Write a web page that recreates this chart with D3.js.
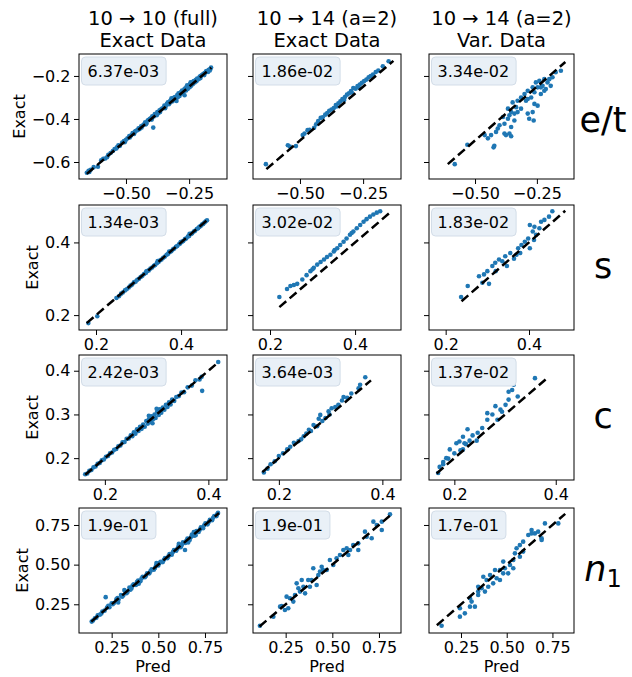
<!DOCTYPE html>
<html>
<head>
<meta charset="utf-8">
<script src="https://cdn.jsdelivr.net/npm/d3@7"></script>
<style>
  body { margin: 0; background: #fff; }
  svg { display: block; font-family: "DejaVu Sans", sans-serif; }
</style>
</head>
<body>
<svg id="chart" width="632" height="677"></svg>
<script>
// titles, row names and per-panel error labels
const colTitles = [
  ["10 \u2192 10 (full)", "Exact Data"],
  ["10 \u2192 14 (a=2)", "Exact Data"],
  ["10 \u2192 14 (a=2)", "Var. Data"]
];
const rowNames = ["e/t", "s", "c", "n1"];
const errLabels = [
  ["6.37e-03", "1.86e-02", "3.34e-02"],
  ["1.34e-03", "3.02e-02", "1.83e-02"],
  ["2.42e-03", "3.64e-03", "1.37e-02"],
  ["1.9e-01", "1.9e-01", "1.7e-01"]
];

// axis ticks per row
const xTicks = [[-0.5, -0.25], [0.2, 0.4], [0.2, 0.4], [0.25, 0.5, 0.75]];
const yTicks = [[-0.6, -0.4, -0.2], [0.2, 0.4], [0.2, 0.3, 0.4], [0.25, 0.5, 0.75]];
const xFormats = [".2f", ".1f", ".1f", ".2f"];
const yFormats = [".1f", ".1f", ".1f", ".2f"];
const xDomains = [[-0.686, -0.100], [0.160, 0.508], [0.150, 0.436], [0.075, 0.868]];
const yDomains = [[-0.679, -0.098], [0.159, 0.503], [0.150, 0.436], [0.069, 0.857]];

// y = x reference line extent per panel
const lineRanges = [
  [[-0.655, -0.162], [-0.633, -0.130], [-0.610, -0.135]],
  [[0.178, 0.461], [0.222, 0.487], [0.238, 0.487]],
  [[0.162, 0.414], [0.168, 0.378], [0.165, 0.380]],
  [[0.141, 0.825], [0.110, 0.820], [0.118, 0.820]]
];

// [pred, exact] pairs
const etFull = [[-0.655,-0.650],[-0.648,-0.641],[-0.640,-0.636],[-0.611,-0.622],[-0.598,-0.592],[-0.590,-0.585],[-0.582,-0.584],[-0.570,-0.566],[-0.561,-0.558],[-0.552,-0.549],[-0.545,-0.540],[-0.538,-0.537],[-0.530,-0.522],[-0.524,-0.525],[-0.515,-0.509],[-0.508,-0.503],[-0.500,-0.497],[-0.494,-0.490],[-0.487,-0.479],[-0.480,-0.477],[-0.474,-0.466],[-0.468,-0.470],[-0.462,-0.456],[-0.455,-0.452],[-0.450,-0.443],[-0.446,-0.447],[-0.440,-0.434],[-0.434,-0.430],[-0.429,-0.426],[-0.424,-0.415],[-0.419,-0.420],[-0.414,-0.407],[-0.410,-0.404],[-0.405,-0.399],[-0.400,-0.396],[-0.392,-0.440],[-0.396,-0.387],[-0.390,-0.388],[-0.386,-0.377],[-0.381,-0.378],[-0.376,-0.368],[-0.372,-0.372],[-0.367,-0.360],[-0.362,-0.356],[-0.357,-0.351],[-0.352,-0.349],[-0.348,-0.338],[-0.343,-0.341],[-0.338,-0.330],[-0.334,-0.322],[-0.330,-0.331],[-0.325,-0.316],[-0.320,-0.304],[-0.316,-0.318],[-0.311,-0.302],[-0.306,-0.298],[-0.302,-0.305],[-0.297,-0.289],[-0.292,-0.281],[-0.288,-0.293],[-0.283,-0.276],[-0.278,-0.268],[-0.274,-0.279],[-0.269,-0.262],[-0.265,-0.258],[-0.260,-0.252],[-0.255,-0.260],[-0.250,-0.243],[-0.246,-0.238],[-0.242,-0.246],[-0.237,-0.230],[-0.232,-0.224],[-0.228,-0.230],[-0.223,-0.218],[-0.218,-0.212],[-0.213,-0.215],[-0.208,-0.203],[-0.203,-0.199],[-0.198,-0.195],[-0.193,-0.190],[-0.188,-0.186],[-0.183,-0.178],[-0.178,-0.176],[-0.172,-0.172],[-0.166,-0.168],[-0.163,-0.161],[-0.268,-0.290],[-0.300,-0.316],
  [-0.645,-0.646],[-0.628,-0.624],[-0.575,-0.578],[-0.535,-0.530],[-0.505,-0.508],[-0.485,-0.486],[-0.465,-0.460],[-0.438,-0.440],[-0.421,-0.425],[-0.398,-0.403],[-0.378,-0.383],[-0.365,-0.368],[-0.345,-0.350],[-0.327,-0.325],[-0.314,-0.310],[-0.295,-0.299],[-0.285,-0.284],[-0.272,-0.272],[-0.262,-0.268],[-0.248,-0.252],[-0.235,-0.238],[-0.221,-0.225],[-0.205,-0.210],[-0.190,-0.196],[-0.175,-0.182],[-0.168,-0.175],[-0.258,-0.244],[-0.244,-0.229]];
const etExact = [[-0.635,-0.610],[-0.548,-0.522],[-0.540,-0.528],[-0.516,-0.526],[-0.489,-0.475],[-0.482,-0.468],[-0.470,-0.452],[-0.462,-0.450],[-0.444,-0.441],[-0.436,-0.425],[-0.428,-0.410],[-0.418,-0.395],[-0.410,-0.392],[-0.400,-0.380],[-0.392,-0.372],[-0.384,-0.362],[-0.375,-0.356],[-0.366,-0.349],[-0.358,-0.335],[-0.348,-0.327],[-0.340,-0.318],[-0.332,-0.307],[-0.322,-0.298],[-0.314,-0.287],[-0.306,-0.281],[-0.298,-0.270],[-0.289,-0.256],[-0.280,-0.259],[-0.272,-0.247],[-0.263,-0.240],[-0.255,-0.232],[-0.246,-0.224],[-0.237,-0.217],[-0.228,-0.206],[-0.220,-0.200],[-0.211,-0.194],[-0.200,-0.182],[-0.190,-0.175],[-0.172,-0.155],[-0.149,-0.132],[-0.355,-0.342],[-0.325,-0.312],[-0.295,-0.277],[-0.268,-0.253]];
const etVar = [[-0.582,-0.610],[-0.531,-0.520],[-0.425,-0.532],[-0.422,-0.525],[-0.435,-0.475],[-0.415,-0.460],[-0.408,-0.444],[-0.401,-0.429],[-0.381,-0.468],[-0.375,-0.475],[-0.361,-0.468],[-0.354,-0.480],[-0.354,-0.437],[-0.367,-0.399],[-0.387,-0.391],[-0.361,-0.383],[-0.341,-0.375],[-0.328,-0.368],[-0.334,-0.345],[-0.314,-0.352],[-0.287,-0.375],[-0.267,-0.368],[-0.281,-0.399],[-0.263,-0.407],[-0.294,-0.315],[-0.273,-0.300],[-0.260,-0.330],[-0.247,-0.338],[-0.234,-0.284],[-0.247,-0.253],[-0.227,-0.246],[-0.220,-0.269],[-0.207,-0.230],[-0.187,-0.206],[-0.174,-0.183],[-0.153,-0.176],[-0.314,-0.300],[-0.328,-0.315],[-0.348,-0.323],[-0.461,-0.475],[-0.448,-0.490],[-0.381,-0.422],[-0.287,-0.269],[-0.267,-0.253],[-0.254,-0.230],[-0.234,-0.253],[-0.214,-0.261],[-0.200,-0.215],[-0.194,-0.246],[-0.341,-0.407],[-0.260,-0.276],[-0.300,-0.284],[-0.287,-0.307],[-0.367,-0.352],[-0.354,-0.368],[-0.220,-0.215],[-0.240,-0.223]];

const sFull = [[0.182,0.178],[0.203,0.197],[0.248,0.247],[0.254,0.252],[0.259,0.259],[0.263,0.262],[0.268,0.268],[0.272,0.271],[0.277,0.276],[0.281,0.281],[0.285,0.284],[0.289,0.290],[0.293,0.292],[0.297,0.297],[0.301,0.300],[0.305,0.305],[0.309,0.308],[0.313,0.313],[0.317,0.316],[0.320,0.321],[0.324,0.323],[0.328,0.328],[0.332,0.331],[0.336,0.336],[0.339,0.338],[0.343,0.343],[0.347,0.346],[0.351,0.351],[0.354,0.353],[0.358,0.358],[0.362,0.361],[0.366,0.366],[0.369,0.368],[0.373,0.373],[0.377,0.376],[0.381,0.381],[0.384,0.383],[0.388,0.388],[0.391,0.390],[0.395,0.395],[0.398,0.397],[0.402,0.402],[0.405,0.404],[0.409,0.409],[0.412,0.411],[0.416,0.416],[0.419,0.418],[0.423,0.423],[0.426,0.425],[0.430,0.430],[0.433,0.432],[0.437,0.437],[0.440,0.439],[0.443,0.443],[0.446,0.445],[0.449,0.449],[0.452,0.451],[0.455,0.455],[0.458,0.458],[0.461,0.461],[0.318,0.320],[0.345,0.349],[0.372,0.375],[0.399,0.401],[0.420,0.424]];
const sExact = [[0.222,0.250],[0.240,0.272],[0.248,0.280],[0.256,0.283],[0.264,0.286],[0.276,0.298],[0.286,0.310],[0.295,0.321],[0.303,0.330],[0.311,0.339],[0.319,0.346],[0.327,0.353],[0.334,0.360],[0.342,0.366],[0.350,0.375],[0.358,0.384],[0.365,0.393],[0.373,0.402],[0.380,0.411],[0.388,0.421],[0.396,0.430],[0.404,0.439],[0.412,0.448],[0.420,0.457],[0.427,0.464],[0.435,0.471],[0.443,0.477],[0.451,0.482],[0.459,0.486],[0.300,0.326],[0.352,0.379],[0.392,0.426]];
const sVar = [[0.237,0.250],[0.253,0.280],[0.280,0.307],[0.288,0.289],[0.304,0.286],[0.300,0.321],[0.312,0.335],[0.319,0.344],[0.347,0.335],[0.343,0.362],[0.355,0.371],[0.370,0.366],[0.374,0.384],[0.382,0.393],[0.390,0.402],[0.398,0.411],[0.409,0.430],[0.413,0.443],[0.425,0.439],[0.429,0.457],[0.437,0.462],[0.448,0.471],[0.456,0.486],[0.364,0.355],[0.379,0.371],[0.402,0.384],[0.412,0.407],[0.417,0.421],[0.328,0.353],[0.320,0.321],[0.402,0.448],[0.292,0.312],[0.336,0.348]];

const cFull = [[0.162,0.163],[0.166,0.165],[0.170,0.171],[0.174,0.173],[0.178,0.179],[0.182,0.181],[0.186,0.187],[0.190,0.189],[0.194,0.195],[0.198,0.197],[0.202,0.203],[0.206,0.205],[0.210,0.211],[0.214,0.213],[0.218,0.219],[0.222,0.221],[0.226,0.227],[0.230,0.229],[0.234,0.236],[0.238,0.237],[0.242,0.244],[0.246,0.245],[0.250,0.252],[0.253,0.250],[0.256,0.259],[0.259,0.256],[0.262,0.266],[0.265,0.262],[0.268,0.272],[0.271,0.267],[0.274,0.277],[0.277,0.272],[0.280,0.285],[0.283,0.279],[0.285,0.289],[0.288,0.283],[0.290,0.296],[0.293,0.289],[0.296,0.300],[0.298,0.292],[0.301,0.306],[0.304,0.299],[0.306,0.312],[0.309,0.304],[0.312,0.316],[0.315,0.311],[0.318,0.322],[0.321,0.317],[0.324,0.328],[0.327,0.323],[0.330,0.334],[0.334,0.331],[0.338,0.340],[0.343,0.342],[0.348,0.350],[0.353,0.351],[0.360,0.362],[0.368,0.366],[0.375,0.378],[0.383,0.380],[0.387,0.386],[0.388,0.354],[0.419,0.420],[0.300,0.313],[0.285,0.297],[0.292,0.280]];
const cExact = [[0.171,0.167],[0.178,0.176],[0.184,0.186],[0.192,0.193],[0.200,0.205],[0.208,0.211],[0.216,0.220],[0.222,0.226],[0.229,0.235],[0.238,0.239],[0.243,0.243],[0.248,0.250],[0.253,0.256],[0.258,0.265],[0.262,0.262],[0.267,0.276],[0.274,0.273],[0.280,0.299],[0.284,0.285],[0.290,0.292],[0.296,0.307],[0.302,0.314],[0.309,0.317],[0.315,0.322],[0.322,0.332],[0.325,0.340],[0.332,0.338],[0.340,0.348],[0.354,0.360],[0.357,0.368],[0.367,0.385],[0.277,0.290],[0.298,0.300]];
const cVar = [[0.168,0.166],[0.171,0.180],[0.178,0.191],[0.188,0.199],[0.200,0.211],[0.204,0.234],[0.210,0.238],[0.217,0.249],[0.220,0.234],[0.226,0.266],[0.230,0.240],[0.236,0.252],[0.246,0.258],[0.255,0.269],[0.265,0.303],[0.265,0.288],[0.275,0.300],[0.281,0.319],[0.291,0.311],[0.301,0.322],[0.307,0.334],[0.314,0.356],[0.317,0.368],[0.307,0.352],[0.325,0.341],[0.359,0.383],[0.178,0.186],[0.191,0.220],[0.223,0.232],[0.217,0.220],[0.244,0.240],[0.294,0.306],[0.285,0.288],[0.184,0.200],[0.212,0.218]];

const nFull = [[0.143,0.141],[0.160,0.162],[0.175,0.180],[0.188,0.185],[0.200,0.205],[0.218,0.295],[0.212,0.210],[0.225,0.230],[0.238,0.232],[0.250,0.256],[0.262,0.258],[0.275,0.282],[0.287,0.280],[0.300,0.308],[0.312,0.305],[0.322,0.332],[0.335,0.328],[0.345,0.355],[0.356,0.350],[0.368,0.376],[0.380,0.372],[0.392,0.400],[0.404,0.396],[0.416,0.424],[0.428,0.420],[0.440,0.446],[0.452,0.445],[0.464,0.470],[0.476,0.468],[0.488,0.494],[0.500,0.495],[0.512,0.518],[0.524,0.516],[0.536,0.542],[0.548,0.540],[0.560,0.567],[0.572,0.563],[0.584,0.592],[0.596,0.588],[0.608,0.616],[0.620,0.610],[0.632,0.640],[0.643,0.592],[0.644,0.636],[0.656,0.664],[0.668,0.656],[0.680,0.690],[0.692,0.682],[0.704,0.712],[0.716,0.706],[0.728,0.736],[0.740,0.730],[0.752,0.760],[0.764,0.754],[0.776,0.782],[0.788,0.780],[0.800,0.806],[0.812,0.806],[0.820,0.826],[0.318,0.340],[0.395,0.380],[0.610,0.632],[0.285,0.262],[0.490,0.510],[0.700,0.685],
  [0.150,0.148],[0.168,0.165],[0.195,0.192],[0.232,0.240],[0.256,0.250],[0.281,0.290],[0.306,0.298],[0.330,0.320],[0.350,0.342],[0.362,0.368],[0.386,0.392],[0.410,0.412],[0.434,0.430],[0.458,0.460],[0.482,0.478],[0.506,0.510],[0.530,0.530],[0.554,0.552],[0.578,0.580],[0.602,0.600],[0.626,0.624],[0.650,0.650],[0.674,0.672],[0.698,0.700],[0.722,0.720],[0.746,0.748],[0.770,0.768],[0.794,0.796],[0.815,0.818],[0.660,0.640],[0.690,0.705]];
const nExact = [[0.112,0.115],[0.184,0.172],[0.229,0.239],[0.246,0.214],[0.264,0.225],[0.273,0.288],[0.291,0.267],[0.300,0.309],[0.318,0.351],[0.327,0.330],[0.345,0.361],[0.354,0.319],[0.380,0.361],[0.389,0.403],[0.398,0.477],[0.416,0.372],[0.425,0.434],[0.434,0.456],[0.470,0.466],[0.487,0.529],[0.505,0.498],[0.523,0.540],[0.541,0.561],[0.559,0.592],[0.577,0.603],[0.586,0.561],[0.612,0.623],[0.639,0.592],[0.639,0.634],[0.675,0.708],[0.684,0.676],[0.711,0.666],[0.720,0.771],[0.738,0.750],[0.765,0.718],[0.765,0.771],[0.809,0.817],[0.309,0.382],[0.336,0.403],[0.371,0.403],[0.450,0.466],[0.255,0.298],[0.220,0.235],[0.595,0.592],[0.443,0.487]];
const nVar = [[0.144,0.115],[0.244,0.225],[0.244,0.172],[0.271,0.193],[0.299,0.235],[0.308,0.267],[0.326,0.235],[0.344,0.309],[0.344,0.330],[0.363,0.351],[0.381,0.330],[0.390,0.403],[0.399,0.361],[0.426,0.382],[0.436,0.466],[0.445,0.414],[0.463,0.403],[0.481,0.519],[0.490,0.477],[0.508,0.445],[0.518,0.498],[0.536,0.529],[0.545,0.571],[0.554,0.603],[0.572,0.623],[0.590,0.645],[0.590,0.582],[0.618,0.687],[0.636,0.718],[0.654,0.697],[0.672,0.708],[0.691,0.666],[0.691,0.655],[0.709,0.760],[0.782,0.760],[0.372,0.424],[0.409,0.434],[0.463,0.466],[0.344,0.361],[0.299,0.288],[0.536,0.477],[0.572,0.550],[0.636,0.697],[0.481,0.445]];

const panelData = [
  [etFull, etExact, etVar],
  [sFull, sExact, sVar],
  [cFull, cExact, cVar],
  [nFull, nExact, nVar]
];

// layout
const colX = [79, 253, 429];
const colW = [148, 148, 145];
const rowY = [54, 205, 355, 508];
const panelH = 125;
const rowLabelDy = [15, 10, 10, 10];
const dotColor = "#1f77b4";

const svg = d3.select("#chart");

function styleAxis(ax) {
  ax.select(".domain").remove();
  ax.selectAll("line").attr("stroke", "#000").attr("stroke-width", 1);
  ax.selectAll("text").attr("fill", "#000")
    .style("font-size", "16px").style("font-family", '"DejaVu Sans", sans-serif');
}

rowNames.forEach((name, r) => {
  colX.forEach((x0, c) => {
    const w = colW[c];
    const h = panelH;
    const g = svg.append("g").attr("transform", `translate(${x0},${rowY[r]})`);
    const x = d3.scaleLinear().domain(xDomains[r]).range([0, w]);
    const y = d3.scaleLinear().domain(yDomains[r]).range([h, 0]);

    // x axis
    const xa = g.append("g").attr("transform", `translate(0,${h})`)
      .call(d3.axisBottom(x).tickValues(xTicks[r]).tickFormat(d3.format(xFormats[r]))
        .tickSize(5).tickSizeOuter(0).tickPadding(3.5));
    styleAxis(xa);

    // y axis, labels only in first column
    const ya = g.append("g")
      .call(d3.axisLeft(y).tickValues(yTicks[r])
        .tickFormat(c === 0 ? d3.format(yFormats[r]) : "")
        .tickSize(5).tickSizeOuter(0).tickPadding(3.5));
    styleAxis(ya);

    // points
    const clipId = `clip-${r}-${c}`;
    g.append("clipPath").attr("id", clipId)
      .append("rect").attr("width", w).attr("height", h);
    const plot = g.append("g").attr("clip-path", `url(#${clipId})`);
    plot.selectAll("circle")
      .data(panelData[r][c])
      .join("circle")
      .attr("cx", d => x(d[0]))
      .attr("cy", d => y(d[1]))
      .attr("r", 2.3)
      .attr("fill", dotColor);

    // y = x dashed reference
    const [lo, hi] = lineRanges[r][c];
    plot.append("line")
      .attr("x1", x(lo)).attr("y1", y(lo))
      .attr("x2", x(hi)).attr("y2", y(hi))
      .attr("stroke", "#000")
      .attr("stroke-width", 2.5)
      .attr("stroke-dasharray", "9,4.5");

    // frame
    g.append("rect").attr("width", w).attr("height", h)
      .attr("fill", "none").attr("stroke", "#000").attr("stroke-width", 1);

    // error label box
    const lg = g.append("g");
    const box = lg.append("rect").attr("x", 2.5).attr("y", 3).attr("height", 28).attr("rx", 4)
      .attr("fill", "#e9f0f7").attr("stroke", "#d3dde8").attr("stroke-width", 1);
    const lt = lg.append("text").attr("x", 8.5).attr("y", 22.5)
      .attr("font-size", 16).attr("fill", "#000")
      .text(errLabels[r][c]);
    box.attr("width", lt.node().getComputedTextLength() + 13);

    // y label
    if (c === 0) {
      const bb = ya.node().getBBox();
      g.append("text")
        .attr("transform", `translate(${bb.x - 7},${h / 2}) rotate(-90)`)
        .attr("text-anchor", "middle")
        .attr("font-size", 16)
        .text("Exact");
    }

    // x label on bottom row
    if (r === rowNames.length - 1) {
      g.append("text")
        .attr("x", w / 2).attr("y", h + 39)
        .attr("text-anchor", "middle")
        .attr("font-size", 16)
        .text("Pred");
    }

    // column titles
    if (r === 0) {
      g.append("text").attr("x", w / 2).attr("y", -29)
        .attr("text-anchor", "middle").attr("font-size", 19.5)
        .text(colTitles[c][0]);
      g.append("text").attr("x", w / 2).attr("y", -7.5)
        .attr("text-anchor", "middle").attr("font-size", 19.5)
        .text(colTitles[c][1]);
    }
  });

  // row name on the right
  const t = svg.append("text")
    .attr("x", 603)
    .attr("y", rowY[r] + panelH / 2 + rowLabelDy[r])
    .attr("text-anchor", "middle")
    .attr("font-size", 35);
  if (name === "n1") {
    t.append("tspan").attr("font-style", "italic").text("n");
    t.append("tspan").attr("font-size", 24).attr("dy", 6).text("1");
  } else {
    t.text(name);
  }
});
</script>
</body>
</html>
